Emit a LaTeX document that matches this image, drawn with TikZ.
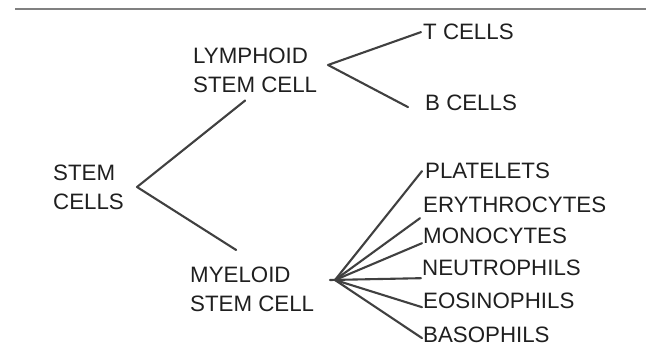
\documentclass[tikz,border=0pt]{standalone}
\usepackage{fontspec}
\setmainfont{Liberation Sans}
\usetikzlibrary{calc}
\begin{document}
\begin{tikzpicture}[x=1pt,y=1pt,
  lbl/.style={anchor=north west,inner sep=0pt,align=left,text=black!88,
    font=\fontsize{22.3}{28.3}\selectfont},
  conn/.style={draw=black!75,line width=2.1pt,line cap=round,line join=round}]
\useasboundingbox (0,0) rectangle (646,354);
\draw[black!50,line width=1.8pt] (15,345) -- (646,345);
% labels (y = 354 - pixel row of cap top)
\node[lbl] (lym) at (193,306) {LYMPHOID\\STEM CELL};
\node[lbl] (stem) at (53,189) {STEM\\CELLS};
\node[lbl] (mye) at (190,87) {MYELOID\\STEM CELL};
\node[lbl] (tc) at (423,330) {T CELLS};
\node[lbl] (bc) at (425,259) {B CELLS};
\node[lbl] (plt) at (425,191) {PLATELETS};
\node[lbl] (ery) at (423,157) {ERYTHROCYTES};
\node[lbl] (mon) at (423,126) {MONOCYTES};
\node[lbl] (neu) at (422,94) {NEUTROPHILS};
\node[lbl] (eos) at (423,61) {EOSINOPHILS};
\node[lbl] (bas) at (423,27) {BASOPHILS};
% fork points
\coordinate (sv) at (137,167);
\coordinate (lv) at (328,289);
\coordinate (fan) at (335,74);
\coordinate (fan0) at (330,74);
% connectors
\draw[conn] ([xshift=-10pt,yshift=-8pt]lym.south) -- (sv) -- ([xshift=-16pt,yshift=17pt]mye.north);
\draw[conn] ([xshift=-2pt]tc.west) -- (lv) -- ([xshift=-17pt,yshift=-4pt]bc.west);
\draw[conn] (fan) -- ([xshift=-3pt]plt.west);
\draw[conn] (fan) -- ([xshift=-3pt,yshift=-5pt]ery.south west);
\draw[conn] (fan) -- ([xshift=-1pt,yshift=1pt]mon.south west);
\draw[conn] (fan0) -- ([xshift=-1pt,yshift=-2pt]neu.south west);
\draw[conn] (fan) -- ([xshift=-1pt,yshift=2pt]eos.south west);
\draw[conn] (fan) -- ([xshift=-1pt,yshift=-3pt]bas.west);
\end{tikzpicture}
\end{document}
